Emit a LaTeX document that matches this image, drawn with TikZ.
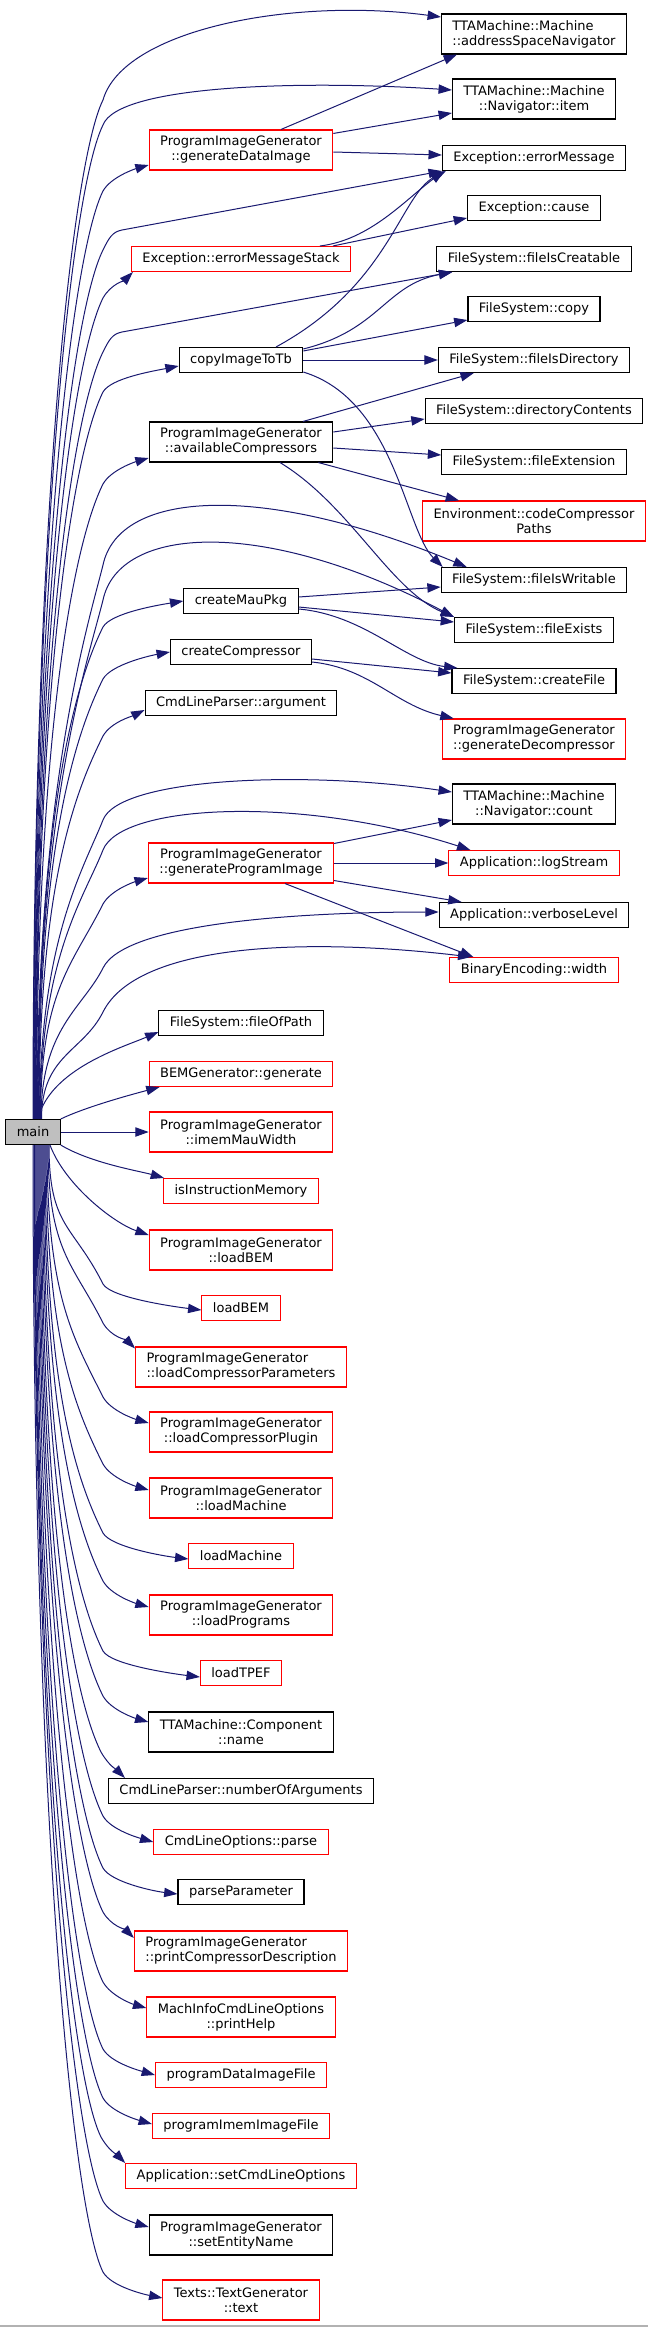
\documentclass[tikz,border=0pt]{standalone}
\usepackage{fontspec}
\setmainfont{DejaVu Sans}
\usepackage{tikz}
\usetikzlibrary{arrows.meta,calc,positioning}
\definecolor{edgeblue}{RGB}{25,25,112}
\definecolor{mainfill}{RGB}{191,191,191}
\definecolor{boxred}{RGB}{255,0,0}
\tikzset{
  basebox/.style={rectangle,draw=black,line width=0.8pt,align=center,inner xsep=8.25pt,inner ysep=1pt,
    minimum height=18.75pt,font=\fontsize{9.75}{11.25}\selectfont},
  fnnode/.style={basebox},
  rednode/.style={basebox,draw=boxred},
  mainnode/.style={basebox,fill=mainfill},
  tall/.style={minimum height=30pt},
  arr/.style={->,>={Triangle[length=10pt,width=7pt]},line width=0.75pt,color=edgeblue}
}

\begin{document}
\begin{tikzpicture}[x=0.75pt,y=-0.75pt]
  \useasboundingbox (0,0) rectangle (648,2327);

  %% callees of the callees
  \node[fnnode,tall,align=left] (addrSpace) at (534,34) {TTAMachine::Machine\\::addressSpaceNavigator};
  \node[fnnode,tall] (navItem) at (534,99) {TTAMachine::Machine\\::Navigator::item};
  \node[fnnode] (errMsg) at (534,158) {Exception::errorMessage};
  \node[fnnode] (cause) at (534,208) {Exception::cause};
  \node[fnnode] (fileCreat) at (534,259) {FileSystem::fileIsCreatable};
  \node[fnnode] (copy) at (534,309) {FileSystem::copy};
  \node[fnnode] (fileDir) at (534,360) {FileSystem::fileIsDirectory};
  \node[fnnode] (dirCont) at (534,411) {FileSystem::directoryContents};
  \node[fnnode] (fileExt) at (534,462) {FileSystem::fileExtension};
  \node[rednode,tall] (codeComp) at (534,521) {Environment::codeCompressor\\Paths};
  \node[fnnode] (fileWrit) at (534,580) {FileSystem::fileIsWritable};
  \node[fnnode] (fileExists) at (534,630) {FileSystem::fileExists};
  \node[fnnode] (createFile) at (534,681) {FileSystem::createFile};
  \node[rednode,tall] (genDecomp) at (534,739) {ProgramImageGenerator\\::generateDecompressor};
  \node[fnnode,tall] (navCount) at (534,804) {TTAMachine::Machine\\::Navigator::count};
  \node[rednode] (logStream) at (534,863) {Application::logStream};
  \node[fnnode] (verbose) at (534,915) {Application::verboseLevel};
  \node[rednode] (binWidth) at (534,970) {BinaryEncoding::width};

  %% direct callees of main
  \node[rednode,tall] (genData) at (241,150) {ProgramImageGenerator\\::generateDataImage};
  \node[rednode] (errStack) at (241,259) {Exception::errorMessageStack};
  \node[fnnode] (copyImg) at (241,360) {copyImageToTb};
  \node[fnnode,tall] (avail) at (241,442) {ProgramImageGenerator\\::availableCompressors};
  \node[fnnode] (mauPkg) at (241,601) {createMauPkg};
  \node[fnnode] (createComp) at (241,652) {createCompressor};
  \node[fnnode] (argument) at (241,703) {CmdLineParser::argument};
  \node[rednode,tall] (genProg) at (241,863) {ProgramImageGenerator\\::generateProgramImage};
  \node[fnnode] (fileOfPath) at (241,1023) {FileSystem::fileOfPath};
  \node[rednode] (bemGen) at (241,1074) {BEMGenerator::generate};
  \node[mainnode] (main) at (33,1132) {main};
  \node[rednode,tall] (imem) at (241,1132) {ProgramImageGenerator\\::imemMauWidth};
  \node[rednode] (isInstr) at (241,1191) {isInstructionMemory};
  \node[rednode,tall] (loadBEMpig) at (241,1250) {ProgramImageGenerator\\::loadBEM};
  \node[rednode] (loadBEM) at (241,1308) {loadBEM};
  \node[rednode,tall,align=left] (loadCompParams) at (241,1367) {ProgramImageGenerator\\::loadCompressorParameters};
  \node[rednode,tall] (loadCompPlugin) at (241,1432) {ProgramImageGenerator\\::loadCompressorPlugin};
  \node[rednode,tall] (loadMachPig) at (241,1498) {ProgramImageGenerator\\::loadMachine};
  \node[rednode] (loadMach) at (241,1556) {loadMachine};
  \node[rednode,tall] (loadProg) at (241,1615) {ProgramImageGenerator\\::loadPrograms};
  \node[rednode] (loadTPEF) at (241,1673) {loadTPEF};
  \node[fnnode,tall] (compName) at (241,1732) {TTAMachine::Component\\::name};
  \node[fnnode] (numArgs) at (241,1791) {CmdLineParser::numberOfArguments};
  \node[rednode] (cmdParse) at (241,1842) {CmdLineOptions::parse};
  \node[fnnode] (parseParam) at (241,1892) {parseParameter};
  \node[rednode,tall,align=left] (printComp) at (241,1951) {ProgramImageGenerator\\::printCompressorDescription};
  \node[rednode,tall] (printHelp) at (241,2017) {MachInfoCmdLineOptions\\::printHelp};
  \node[rednode] (progData) at (241,2075) {programDataImageFile};
  \node[rednode] (progImem) at (241,2126) {programImemImageFile};
  \node[rednode] (setCmd) at (241,2176) {Application::setCmdLineOptions};
  \node[fnnode,tall] (setEntity) at (241,2235) {ProgramImageGenerator\\::setEntityName};
  \node[rednode,tall] (textGen) at (241,2300) {Texts::TextGenerator\\::text};

  %% main -> upper callees
  \draw[arr] (main.north) .. controls +(0,-611) and +(-30,60) .. (103,100) .. controls +(20,-70) and +(-150,-20) .. ($(addrSpace.west)+(0,-17)$);
  \draw[arr] ($(main.north)+(0.5,0)$) .. controls +(0,-596) and +(-30,60) .. (103,125) .. controls +(15,-40) and +(-150,-10) .. ($(navItem.west)+(0,-9)$);
  \draw[arr] ($(main.north)+(1,0)$) .. controls +(0,-557) and +(-30,60) .. (103,191) .. controls +(8,-14) and +(-14,4) .. ($(genData.west)+(0,15)$);
  \draw[arr] ($(main.north)+(1.5,0)$) .. controls +(0,-521) and +(-30,60) .. (103,250) .. controls +(6,-12) and +(-10,2) .. (122,230) -- (errMsg.south west);
  \draw[arr] ($(main.north)+(2,0)$) .. controls +(0,-493) and +(-30,60) .. (103,298) .. controls +(8,-14) and +(-8,8) .. ($(errStack.south west)+(2,0)$);
  \draw[arr] ($(main.north)+(2.5,0)$) .. controls +(0,-460) and +(-30,60) .. (103,352) .. controls +(6,-12) and +(-10,2) .. (122,332) -- ($(fileCreat.south west)+(16,0)$);
  \draw[arr] ($(main.north)+(3,0)$) .. controls +(0,-436) and +(-30,60) .. (103,392) .. controls +(8,-14) and +(-25,5) .. ($(copyImg.west)+(0,6)$);
  \draw[arr] ($(main.north)+(3.5,0)$) .. controls +(0,-381) and +(-30,60) .. (103,484) .. controls +(8,-14) and +(-14,4) .. ($(avail.west)+(0,16)$);
  \draw[arr] ($(main.north)+(4,0)$) .. controls +(0,-332) and +(-15,60) .. (103,565) .. controls +(16,-75) and +(-205,-85) .. ($(fileWrit.north west)+(26,0)$);
  \draw[arr] ($(main.north)+(4.5,0)$) .. controls +(0,-311) and +(-15,60) .. (103,600) .. controls +(16,-75) and +(-190,-100) .. (fileExists.north west);
  \draw[arr] ($(main.north)+(5,0)$) .. controls +(0,-295) and +(-30,60) .. (103,627) .. controls +(8,-14) and +(-25,4) .. (mauPkg.west);
  \draw[arr] ($(main.north)+(5.5,0)$) .. controls +(0,-264) and +(-30,60) .. (103,679) .. controls +(8,-14) and +(-22,4) .. (createComp.west);
  \draw[arr] ($(main.north)+(6,0)$) .. controls +(0,-230) and +(-30,60) .. (103,736) .. controls +(8,-14) and +(-12,6) .. ($(argument.west)+(0,7)$);
  \draw[arr] ($(main.north)+(6.5,0)$) .. controls +(0,-179) and +(-20,50) .. (103,820) .. controls +(16,-42) and +(-150,-22) .. ($(navCount.west)+(0,-12)$);
  \draw[arr] ($(main.north)+(7,0)$) .. controls +(0,-161) and +(-20,50) .. (103,850) .. controls +(18,-46) and +(-170,-55) .. ($(logStream.north west)+(22,0)$);
  \draw[arr] ($(main.north)+(7.5,0)$) .. controls +(0,-129) and +(-30,60) .. (103,904) .. controls +(8,-14) and +(-14,4) .. ($(genProg.west)+(0,15)$);
  \draw[arr] ($(main.north)+(8,0)$) .. controls +(0,-91) and +(-20,40) .. (103,968) .. controls +(22,-45) and +(-140,0) .. ($(verbose.west)+(0,-3)$);
  \draw[arr] ($(main.north)+(8.5,0)$) .. controls +(0,-64) and +(-20,40) .. (103,1012) .. controls +(34,-68) and +(-170,-20) .. ($(binWidth.north west)+(22,0)$);
  \draw[arr] ($(main.north)+(5,0)$) .. controls +(12,-50) and +(-35,15) .. ($(fileOfPath.west)+(0,9)$);
  \draw[arr] (main.north east) .. controls +(25,-12) and +(-30,8) .. ($(bemGen.south west)+(11,0)$);
  \draw[arr] (main.east) -- (imem.west);

  %% main -> lower callees
  \draw[arr] (main.south east) .. controls +(30,18) and +(-25,-7) .. ($(isInstr.north west)+(1,0)$);
  \draw[arr] ($(main.south)+(17,0)$) .. controls +(15,40) and +(-35,-12) .. ($(loadBEMpig.west)+(0,-15)$);
  \draw[arr] ($(main.south)+(16,0)$) .. controls +(0,83) and +(-30,-60) .. (103,1284) .. controls +(8,14) and +(-25,-3) .. ($(loadBEM.west)+(0,2)$);
  \draw[arr] ($(main.south)+(15,0)$) .. controls +(0,107) and +(-30,-60) .. (103,1323) .. controls +(8,14) and +(-8,-8) .. ($(loadCompParams.north west)+(0,2)$);
  \draw[arr] ($(main.south)+(14,0)$) .. controls +(0,151) and +(-30,-60) .. (103,1397) .. controls +(8,14) and +(-14,-4) .. ($(loadCompPlugin.west)+(0,-9)$);
  \draw[arr] ($(main.south)+(13,0)$) .. controls +(0,191) and +(-30,-60) .. (103,1464) .. controls +(8,14) and +(-14,-4) .. ($(loadMachPig.west)+(0,-8)$);
  \draw[arr] ($(main.south)+(12,0)$) .. controls +(0,233) and +(-30,-60) .. (103,1533) .. controls +(8,14) and +(-25,-3) .. ($(loadMach.west)+(0,3)$);
  \draw[arr] ($(main.south)+(11,0)$) .. controls +(0,262) and +(-30,-60) .. (103,1581) .. controls +(8,14) and +(-14,-4) .. ($(loadProg.west)+(0,-8)$);
  \draw[arr] ($(main.south)+(10,0)$) .. controls +(0,304) and +(-30,-60) .. (103,1651) .. controls +(8,14) and +(-25,-3) .. ($(loadTPEF.west)+(0,4)$);
  \draw[arr] ($(main.south)+(9,0)$) .. controls +(0,331) and +(-30,-60) .. (103,1696) .. controls +(8,14) and +(-14,-4) .. ($(compName.west)+(0,-10)$);
  \draw[arr] ($(main.south)+(8,0)$) .. controls +(0,364) and +(-30,-60) .. (101,1752) .. controls +(8,14) and +(-8,-8) .. ($(numArgs.north west)+(17,0)$);
  \draw[arr] ($(main.south)+(7,0)$) .. controls +(0,403) and +(-30,-60) .. (103,1816) .. controls +(8,14) and +(-14,-4) .. (cmdParse.west);
  \draw[arr] ($(main.south)+(6,0)$) .. controls +(0,434) and +(-30,-60) .. (103,1868) .. controls +(8,14) and +(-25,-3) .. ($(parseParam.west)+(0,2)$);
  \draw[arr] ($(main.south)+(5,0)$) .. controls +(0,460) and +(-30,-60) .. (103,1912) .. controls +(8,14) and +(-8,-8) .. ($(printComp.west)+(0,-13)$);
  \draw[arr] ($(main.south)+(4,0)$) .. controls +(0,502) and +(-30,-60) .. (103,1982) .. controls +(8,14) and +(-14,-4) .. ($(printHelp.west)+(0,-9)$);
  \draw[arr] ($(main.south)+(3,0)$) .. controls +(0,542) and +(-30,-60) .. (103,2049) .. controls +(8,14) and +(-14,-4) .. (progData.west);
  \draw[arr] ($(main.south)+(2,0)$) .. controls +(0,572) and +(-30,-60) .. (103,2098) .. controls +(8,14) and +(-14,-4) .. ($(progImem.west)+(0,-2)$);
  \draw[arr] ($(main.south)+(1.5,0)$) .. controls +(0,595) and +(-30,-60) .. (101,2137) .. controls +(8,14) and +(-8,-8) .. (setCmd.north west);
  \draw[arr] ($(main.south)+(1,0)$) .. controls +(0,634) and +(-30,-60) .. (103,2201) .. controls +(8,14) and +(-14,-4) .. ($(setEntity.west)+(0,-8)$);
  \draw[arr] (main.south) .. controls +(0,676) and +(-30,-60) .. (103,2272) .. controls +(8,14) and +(-20,-4) .. ($(textGen.west)+(0,-2)$);

  %% generateDataImage
  \draw[arr] ($(genData.north)+(40,0)$) -- ($(addrSpace.south west)+(16,0)$);
  \draw[arr] ($(genData.north east)+(0,4)$) -- ($(navItem.west)+(0,14)$);
  \draw[arr] ($(genData.east)+(0,2)$) -- ($(errMsg.west)+(0,-3)$);

  %% errorMessageStack
  \draw[arr] ($(errStack.north)+(79,0)$) .. controls (370,240) and (405,200) .. ($(errMsg.south west)+(2,0)$);
  \draw[arr] ($(errStack.north)+(92,0)$) -- ($(cause.west)+(0,10)$);

  %% copyImageToTb
  \draw[arr] ($(copyImg.north)+(35,0)$) .. controls (390,285) and (400,195) .. ($(errMsg.south west)+(4,0)$);
  \draw[arr] ($(copyImg.north east)+(0,2)$) .. controls (380,330) and (385,285) .. ($(fileCreat.south west)+(16,0)$);
  \draw[arr] ($(copyImg.north east)+(0,4)$) -- ($(copy.west)+(0,11)$);
  \draw[arr] (copyImg.east) -- (fileDir.west);
  \draw[arr] ($(copyImg.south east)+(0,-1)$) .. controls (395,400) and (405,530) .. ($(fileWrit.north west)+(2,0)$);

  %% availableCompressors
  \draw[arr] ($(avail.north)+(62,0)$) -- ($(fileDir.south west)+(36,0)$);
  \draw[arr] ($(avail.east)+(0,-10)$) -- ($(dirCont.west)+(0,8)$);
  \draw[arr] ($(avail.east)+(0,6)$) -- ($(fileExt.west)+(0,-7)$);
  \draw[arr] ($(avail.south east)+(-15,0)$) -- ($(codeComp.north west)+(37,0)$);
  \draw[arr] ($(avail.south)+(39,0)$) .. controls (350,505) and (390,590) .. (fileExists.north west);

  %% createMauPkg, createCompressor
  \draw[arr] ($(mauPkg.east)+(0,-4)$) -- ($(fileWrit.west)+(0,7)$);
  \draw[arr] ($(mauPkg.east)+(0,6)$) -- ($(fileExists.west)+(0,-8)$);
  \draw[arr] ($(mauPkg.east)+(0,8)$) .. controls (365,615) and (405,662) .. ($(createFile.north west)+(6,0)$);
  \draw[arr] ($(createComp.east)+(0,7)$) -- ($(createFile.west)+(0,-8)$);
  \draw[arr] ($(createComp.east)+(0,10)$) .. controls (370,668) and (395,705) .. ($(genDecomp.north west)+(12,0)$);

  %% generateProgramImage
  \draw[arr] ($(genProg.north east)+(0,1)$) -- ($(navCount.west)+(0,16)$);
  \draw[arr] (genProg.east) -- (logStream.west);
  \draw[arr] ($(genProg.south east)+(0,-3)$) -- ($(verbose.north west)+(23,0)$);
  \draw[arr] ($(genProg.south)+(44,0)$) -- ($(binWidth.north west)+(24,0)$);

  \draw[gray!60,line width=1pt] (0,2326) -- (648,2326);
\end{tikzpicture}
\end{document}
